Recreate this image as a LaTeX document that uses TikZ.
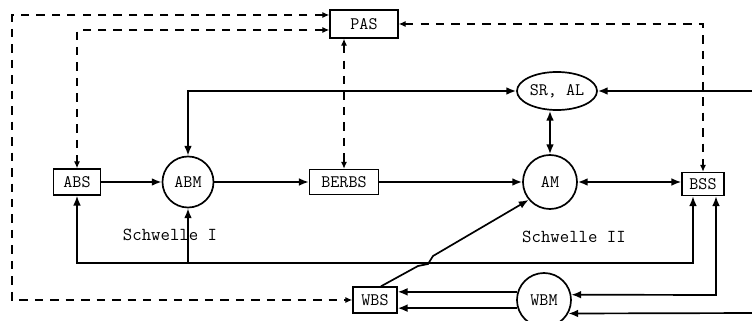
\documentclass[tikz,border=0pt]{standalone}
\usetikzlibrary{arrows.meta,shapes.geometric}

\begin{document}
\begin{tikzpicture}
[x=0.025cm,y=-0.025cm,
  boxdecorate/.style={shape=rectangle,draw,line width=1pt,inner sep=1pt,font=\ttfamily\fontsize{12.5}{14}\selectfont},%
  circdecorate/.style={shape=circle,draw,line width=1.2pt,inner sep=0pt,font=\ttfamily\fontsize{12.5}{14}\selectfont},%
  textdecorate/.style={inner sep=1pt,font=\ttfamily\fontsize{13}{15}\selectfont},%
  linedecorate/.style={line width=1.2pt,>={Latex[length=7pt,width=5.5pt]}},%
  dashdecorate/.style={line width=1pt,dash pattern=on 6pt off 5pt,>={Latex[length=5pt,width=4.5pt]}}]
\useasboundingbox (0,0) rectangle (752,321);
\clip (0,0) rectangle (752,321);
%% boxes
\foreach \nodename/\x/\y/\w/\h in {
  PAS/364/24/1.7/0.7, ABS/77/182/1.175/0.65, BERBS/344/182/1.725/0.625,
  BSS/703/184/1.05/0.575, WBS/375/300/1.1/0.65}
{
  \node (\nodename) at (\x,\y) [boxdecorate,minimum width=\w cm,minimum height=\h cm] {\nodename};
}
%% circles and ellipse
\foreach \nodename/\x/\y/\d in {ABM/188/182/1.275, AM/550/182/1.35, WBM/544/300/1.35}
{
  \node (\nodename) at (\x,\y) [circdecorate,minimum size=\d cm] {\nodename};
}
\node (SR) at (557,91) [circdecorate,shape=ellipse,minimum width=2cm,minimum height=0.95cm] {SR, AL};
%% labels
\node (schwelleI) at (170,235) [textdecorate] {Schwelle I};
\node (schwelleII) at (574,237) [textdecorate] {Schwelle II};
%% helper points
\coordinate (leftrail) at (12,300);
\coordinate (busR) at (693,263);
\coordinate (railR) at (716,295);
\coordinate (edgeA) at (760,91);
\coordinate (edgeB) at (760,313);
\coordinate (jogA) at (418,266);
\coordinate (jogB) at (428,264);
\coordinate (jogC) at (433,256);
%% solid lines
\draw[linedecorate,->] (ABS) -- (ABM);
\draw[linedecorate,->] (ABM) -- (BERBS);
\draw[linedecorate,->] (BERBS) -- (AM);
\draw[linedecorate,<->] (AM) -- (AM -| BSS.west);
\draw[linedecorate,<->] (AM.north) -- (AM.north |- SR.south);
\draw[linedecorate,<->] (ABM.north) |- (SR.west);
\draw[linedecorate,->] (edgeA) -- (SR.east);
\draw[linedecorate,<->] (ABS.south) |- (busR) -- (busR |- BSS.south);
\draw[linedecorate,->] (ABM.south |- busR) -- (ABM.south);
\draw[linedecorate,<->] (BSS.south -| railR) -- (railR) -- (WBM.11);
\draw[linedecorate,->] (edgeB) -- (WBM.-29);
\draw[linedecorate,->] (WBM.163) -- (WBM.163 -| WBS.east);
\draw[linedecorate,->] (WBM.197) -- (WBM.197 -| WBS.east);
\draw[linedecorate,->] ([xshift=0.15cm]WBS.north) -- (jogA) -- (jogB) -- (jogC) -- (AM.220);
%% dashed lines
\draw[dashdecorate,<->] ([yshift=0.225cm]PAS.west) -| (leftrail) -- (WBS.west);
\draw[dashdecorate,<->] ([yshift=-0.15cm]PAS.west) -| (ABS.north);
\draw[dashdecorate,<->] (BERBS.north |- PAS.south) -- (BERBS.north);
\draw[dashdecorate,<->] (PAS.east) -| (BSS.north);
\end{tikzpicture}
\end{document}
